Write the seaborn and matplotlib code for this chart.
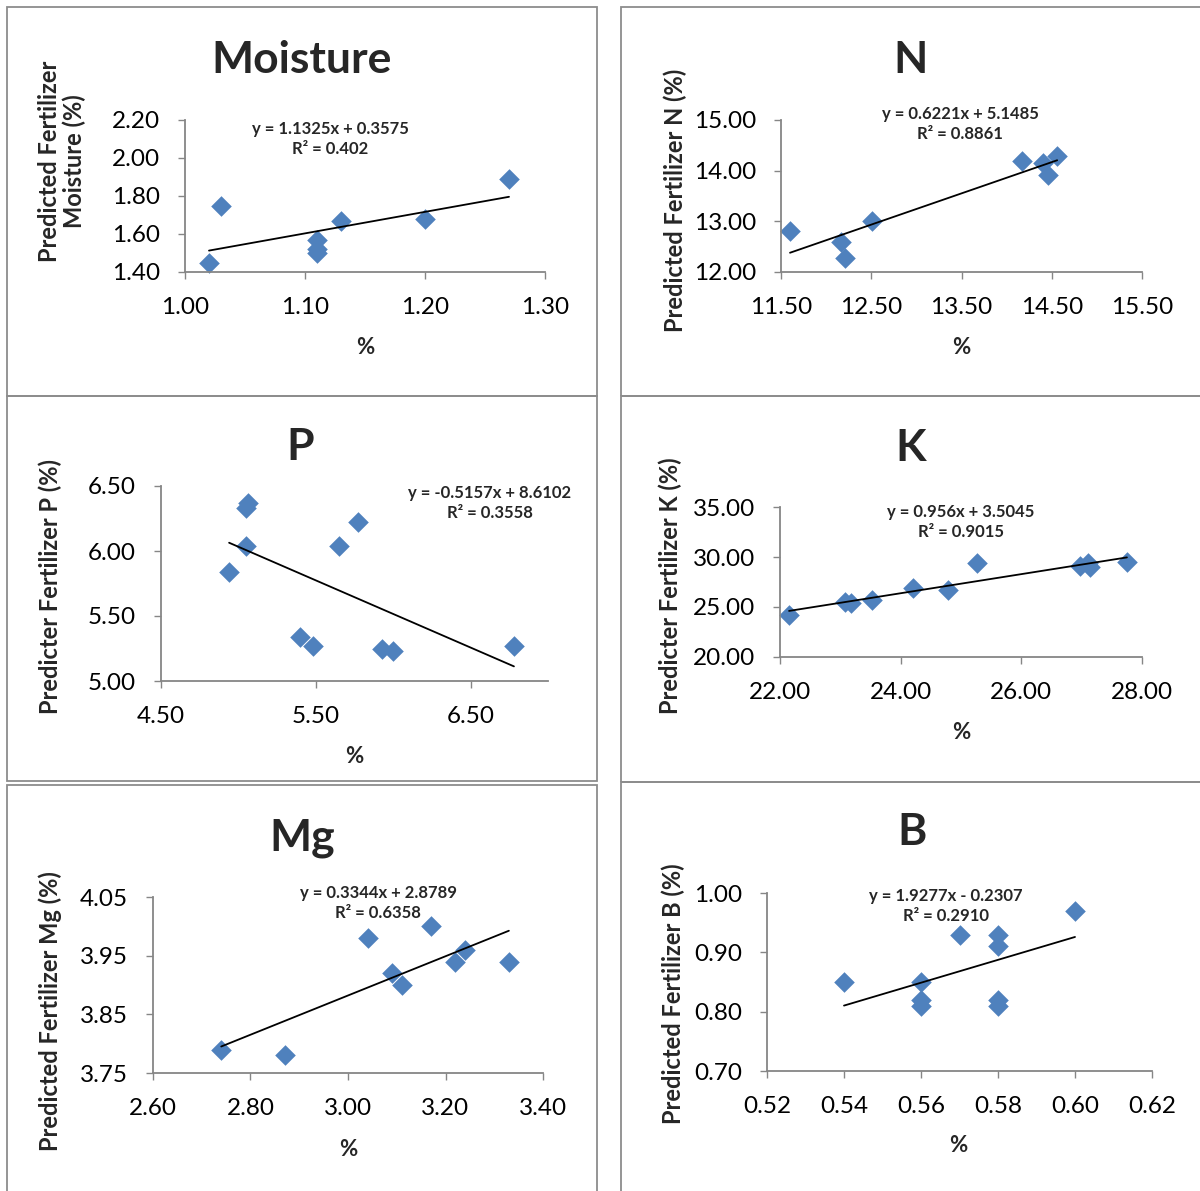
import numpy as np
import pandas as pd
import seaborn as sns
import matplotlib
matplotlib.use('Agg')
import matplotlib.pyplot as plt
from matplotlib.ticker import FormatStrFormatter, FixedLocator
from matplotlib.patches import Rectangle

sns.set_theme(style='white')
plt.rcParams['font.family'] = ['Lato', 'DejaVu Sans']

# 讀圖估計的資料
moist_x = [1.02, 1.03, 1.11, 1.11, 1.11, 1.13, 1.20, 1.27]
moist_y = [1.45, 1.75, 1.57, 1.52, 1.50, 1.67, 1.68, 1.89]

n_x = [11.60, 12.17, 12.21, 12.51, 14.17, 14.40, 14.46, 14.56]
n_y = [12.80, 12.60, 12.27, 13.01, 14.19, 14.16, 13.91, 14.29]

p_x = [4.94, 5.05, 5.05, 5.06, 5.40, 5.48, 5.65, 5.77, 5.93, 6.00, 6.78]
p_y = [5.84, 6.04, 6.33, 6.37, 5.34, 5.27, 6.04, 6.22, 5.25, 5.23, 5.27]

k_x = [22.15, 23.08, 23.18, 23.52, 24.21, 24.79, 25.27, 26.98, 27.10, 27.13, 27.75]
k_y = [24.2, 25.5, 25.4, 25.7, 26.9, 26.7, 29.4, 29.1, 29.4, 29.0, 29.5]

mg_x = [2.74, 2.87, 3.04, 3.09, 3.11, 3.17, 3.22, 3.24, 3.33]
mg_y = [3.79, 3.78, 3.98, 3.92, 3.90, 4.00, 3.94, 3.96, 3.94]

b_x = [0.54, 0.56, 0.56, 0.56, 0.57, 0.58, 0.58, 0.58, 0.58, 0.60]
b_y = [0.85, 0.85, 0.82, 0.81, 0.93, 0.93, 0.91, 0.82, 0.81, 0.97]

titles = ['Moisture', 'N', 'P', 'K', 'Mg', 'B']
ylabels = ['Predicted Fertilizer\nMoisture (%)', 'Predicted Fertilizer N (%)',
           'Predicter Fertilizer P (%)', 'Predicter Fertilizer K (%)',
           'Predicted Fertilizer Mg (%)', 'Predicted Fertilizer B (%)']
equations = ['y = 1.1325x + 0.3575\nR² = 0.402', 'y = 0.6221x + 5.1485\nR² = 0.8861',
             'y = -0.5157x + 8.6102\nR² = 0.3558', 'y = 0.956x + 3.5045\nR² = 0.9015',
             'y = 0.3344x + 2.8789\nR² = 0.6358', 'y = 1.9277x - 0.2307\nR² = 0.2910']
xticks = [[1.00, 1.10, 1.20, 1.30], [11.5, 12.5, 13.5, 14.5, 15.5], [4.5, 5.5, 6.5],
          [22, 24, 26, 28], [2.6, 2.8, 3.0, 3.2, 3.4], [0.52, 0.54, 0.56, 0.58, 0.60, 0.62]]
xlims = [(1.0, 1.3), (11.5, 15.5), (4.5, 7.0), (22, 28), (2.6, 3.4), (0.52, 0.62)]
yticks = [[1.4, 1.6, 1.8, 2.0, 2.2], [12, 13, 14, 15], [5.0, 5.5, 6.0, 6.5],
          [20, 25, 30, 35], [3.75, 3.85, 3.95, 4.05], [0.7, 0.8, 0.9, 1.0]]

xs = [moist_x, n_x, p_x, k_x, mg_x, b_x]
ys = [moist_y, n_y, p_y, k_y, mg_y, b_y]

W, H = 1200, 1191
fig = plt.figure(figsize=(W / 100, H / 100), dpi=100)

# 版面 (像素): 軸框, 標題, y標籤, x標籤, 公式
layout = [
    dict(ax=(185, 120, 545, 272), title=(302, 60), yl=(62, 161), xl=(365, 347), eq=(330, 139)),
    dict(ax=(781, 120, 1142, 272), title=(911, 60), yl=(675, 200), xl=(961, 347), eq=(960, 124)),
    dict(ax=(161, 486, 548, 681), title=(300, 447), yl=(50, 586), xl=(354, 756), eq=(490, 503)),
    dict(ax=(780, 507, 1142, 657), title=(911, 448), yl=(670, 586), xl=(961, 733), eq=(961, 522)),
    dict(ax=(153, 897, 543, 1073), title=(302, 838), yl=(50, 1011), xl=(348, 1149), eq=(378, 903)),
    dict(ax=(767, 893, 1152, 1071), title=(912, 832), yl=(673, 994), xl=(958, 1146), eq=(946, 906)),
]

# 外框
boxes = [(7, 7, 597, 396), (7, 396, 597, 781), (7, 785, 597, 1210),
         (621, 7, 1220, 396), (621, 396, 1220, 782), (621, 782, 1220, 1210)]
for x0, y0, x1, y1 in boxes:
    fig.add_artist(Rectangle((x0 / W, 1 - y1 / H), (x1 - x0) / W, (y1 - y0) / H,
                             transform=fig.transFigure, fill=False,
                             edgecolor='#8c8c8c', linewidth=1.3))

grey = '#868686'
for i in range(6):
    x0, y0, x1, y1 = layout[i]['ax']
    ax = fig.add_axes([x0 / W, 1 - y1 / H, (x1 - x0) / W, (y1 - y0) / H])
    ax.set_facecolor('none')
    df = pd.DataFrame({'x': xs[i], 'y': ys[i]})
    sns.regplot(data=df, x='x', y='y', scatter=False, ci=None, truncate=True,
                line_kws=dict(color='black', linewidth=1.3, zorder=3), ax=ax)
    sns.scatterplot(data=df, x='x', y='y', marker='D', s=110, color='#4F81BD',
                    linewidth=0, ax=ax, zorder=2, clip_on=False)
    ax.set_xlim(*xlims[i])
    ax.set_ylim(yticks[i][0], yticks[i][-1])
    ax.xaxis.set_major_locator(FixedLocator(xticks[i]))
    ax.yaxis.set_major_locator(FixedLocator(yticks[i]))
    ax.xaxis.set_major_formatter(FormatStrFormatter('%.2f'))
    ax.yaxis.set_major_formatter(FormatStrFormatter('%.2f'))
    for s in ['top', 'right']:
        ax.spines[s].set_visible(False)
    for s in ['left', 'bottom']:
        ax.spines[s].set_color(grey)
        ax.spines[s].set_linewidth(1.3)
    ax.tick_params(axis='both', direction='out', length=5, width=1.0, color=grey,
                   labelsize=17.5, labelcolor='black', bottom=True, left=True)
    ax.tick_params(axis='x', pad=13)
    ax.tick_params(axis='y', pad=13)

    ax.set_xlabel('%', fontsize=16, fontweight='bold')
    ax.set_ylabel(ylabels[i], fontsize=17, fontweight='bold', linespacing=1.1)
    lx, ly = layout[i]['xl']
    ax.xaxis.set_label_coords((lx - x0) / (x1 - x0), (y1 - ly) / (y1 - y0))
    ax.xaxis.label.set_va('center')
    yx, yy = layout[i]['yl']
    ax.yaxis.set_label_coords((yx - x0) / (x1 - x0), (y1 - yy) / (y1 - y0))
    ax.yaxis.label.set_va('center')

    tx, ty = layout[i]['title']
    fig.text(tx / W, 1 - ty / H, titles[i], fontsize=32, fontweight='bold',
             ha='center', va='center')
    ex, ey = layout[i]['eq']
    fig.text(ex / W, 1 - ey / H, equations[i], fontsize=12, fontweight='bold',
             ha='center', va='center', linespacing=1.25)

fig.savefig('out.png', dpi=100)
